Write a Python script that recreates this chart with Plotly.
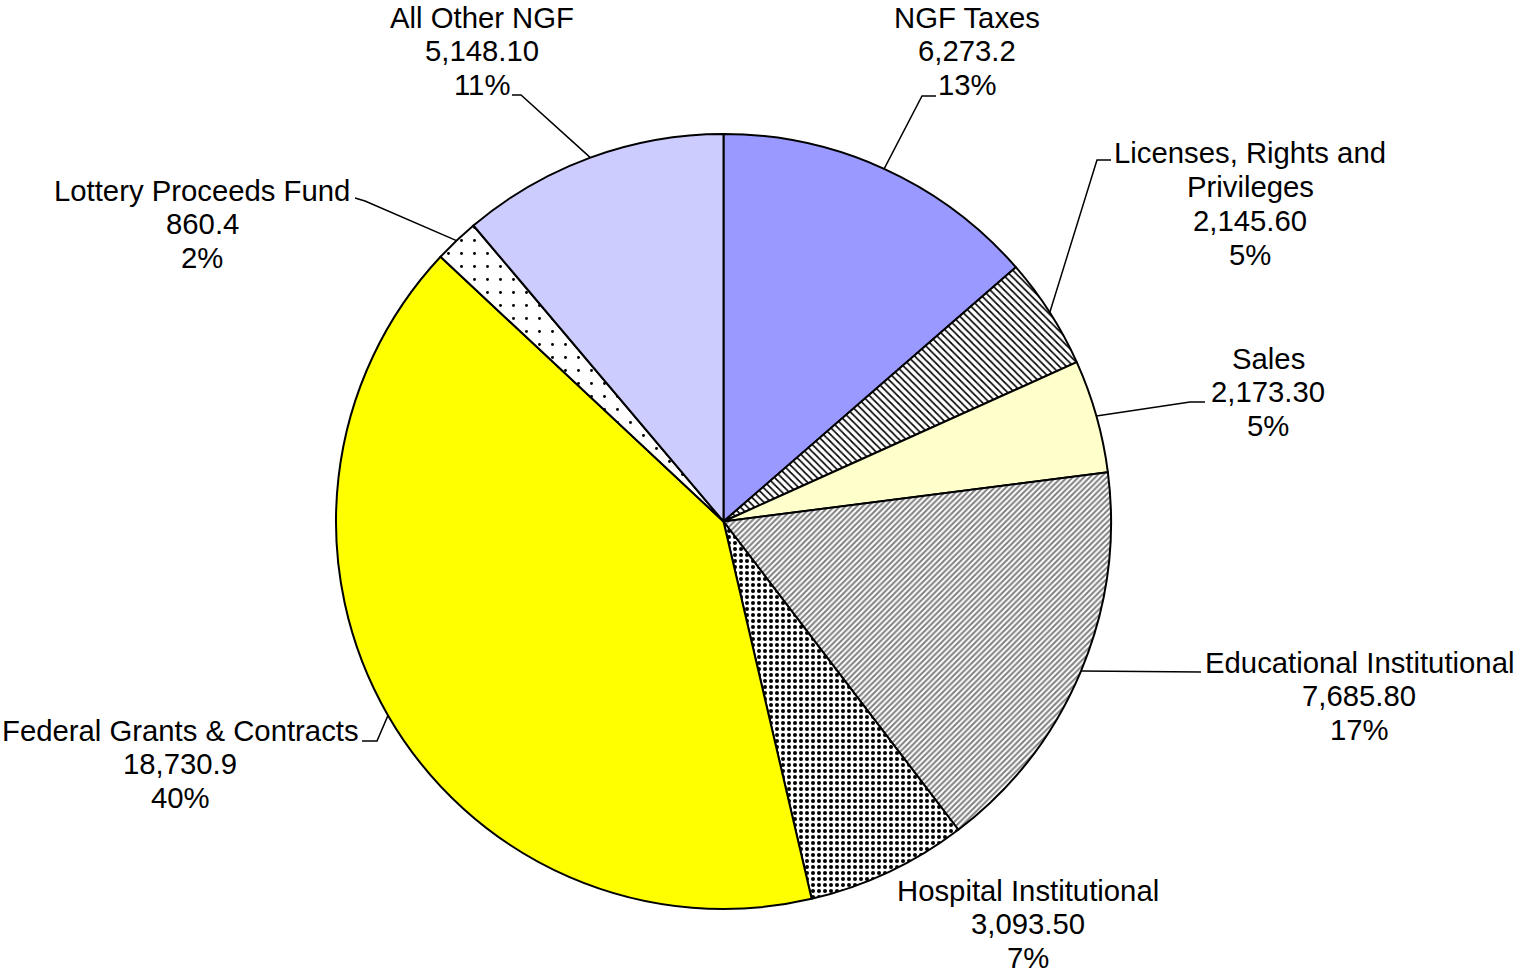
import math
import plotly.graph_objects as go

# ---------------- data ----------------
categories = ["NGF Taxes", "Licenses, Rights and Privileges", "Sales",
              "Educational Institutional", "Hospital Institutional",
              "Federal Grants & Contracts", "Lottery Proceeds Fund", "All Other NGF"]
label_lines = [["NGF Taxes"], ["Licenses, Rights and", "Privileges"], ["Sales"],
               ["Educational Institutional"], ["Hospital Institutional"],
               ["Federal Grants & Contracts"], ["Lottery Proceeds Fund"], ["All Other NGF"]]
values = [6273.2, 2145.6, 2173.3, 7685.8, 3093.5, 18730.9, 860.4, 5148.1]
value_text = ["6,273.2", "2,145.60", "2,173.30", "7,685.80", "3,093.50",
              "18,730.9", "860.4", "5,148.10"]
percent_text = ["13%", "5%", "5%", "17%", "7%", "40%", "2%", "11%"]

# ---------------- style ----------------
W, H = 1516, 976
CX, CY, R = 723.5, 521.5, 387.5
FONT = dict(family="Liberation Sans, Arial, sans-serif", size=29.3, color="black")
LINE_H = 33.8

bg_colors = ["#9999FF", "#FFFFFF", "#FFFFCC", "#FFFFFF", "#FFFFFF", "#FFFF00", "#FFFFFF", "#CCCCFF"]
fg_colors = ["#000000", "#000000", "#000000", "#808080", "#000000", "#000000", "#000000", "#000000"]
p_shapes = ["", "\\", "", "/", ".", "", ".", ""]
p_sizes = [8, 5, 8, 4, 6, 8, 13, 8]
p_solid = [0.3, 0.33, 0.3, 0.5, 0.35, 0.3, 0.04, 0.3]

# label layout: (center x, first-line center y) in px
label_pos = [(967, 17), (1250, 153), (1268, 358), (1359, 662), (1028, 890),
             (180, 730), (202, 190), (482, 17)]
# leader lines: (knee px, label-end px) or None
leaders = [((922, 96), (936, 96)), ((1097, 160), (1111, 160)), ((1190, 402), (1205, 402)),
           (None, (1201, 672)), None, ((377, 741), (362, 741)),
           ((365, 201), (355, 198)), ((521, 95), (512, 95))]

total = sum(values)

def px(x):
    return x / W

def py(y):
    return 1 - y / H

fig = go.Figure(go.Pie(
    labels=categories, values=values, sort=False, direction="clockwise", rotation=0,
    textinfo="none", hoverinfo="label+value+percent", showlegend=False,
    marker=dict(colors=bg_colors, line=dict(color="black", width=2),
                pattern=dict(shape=p_shapes, fgcolor=fg_colors, bgcolor=bg_colors,
                             size=p_sizes, solidity=p_solid, fillmode="replace")),
    domain=dict(x=[px(CX - R), px(CX + R)], y=[py(CY + R), py(CY - R)]),
))

annotations = []
shapes = []
cum = 0.0
for i, v in enumerate(values):
    mid = (cum + v / 2) / total * 2 * math.pi
    cum += v
    lines = label_lines[i] + [value_text[i], percent_text[i]]
    lx, ly = label_pos[i]
    for k, t in enumerate(lines):
        annotations.append(dict(x=px(lx), y=py(ly + k * LINE_H), xref="paper", yref="paper",
                                text=t, showarrow=False, xanchor="center", yanchor="middle",
                                font=FONT))
    if leaders[i] is not None:
        knee, end = leaders[i]
        sx = CX + R * math.sin(mid)
        sy = CY - R * math.cos(mid)
        pts = [(sx, sy)] + ([knee] if knee else []) + [end]
        path = "M " + " L ".join(f"{px(a):.5f},{py(b):.5f}" for a, b in pts)
        shapes.append(dict(type="path", path=path, xref="paper", yref="paper",
                           line=dict(color="black", width=1.5)))

fig.update_layout(width=W, height=H, margin=dict(l=0, r=0, t=0, b=0),
                  paper_bgcolor="white", plot_bgcolor="white",
                  annotations=annotations, shapes=shapes)

fig.write_html("out.html", config={"displayModeBar": False},
               post_script="document.body.style.margin='0';document.body.style.overflow='hidden';")
